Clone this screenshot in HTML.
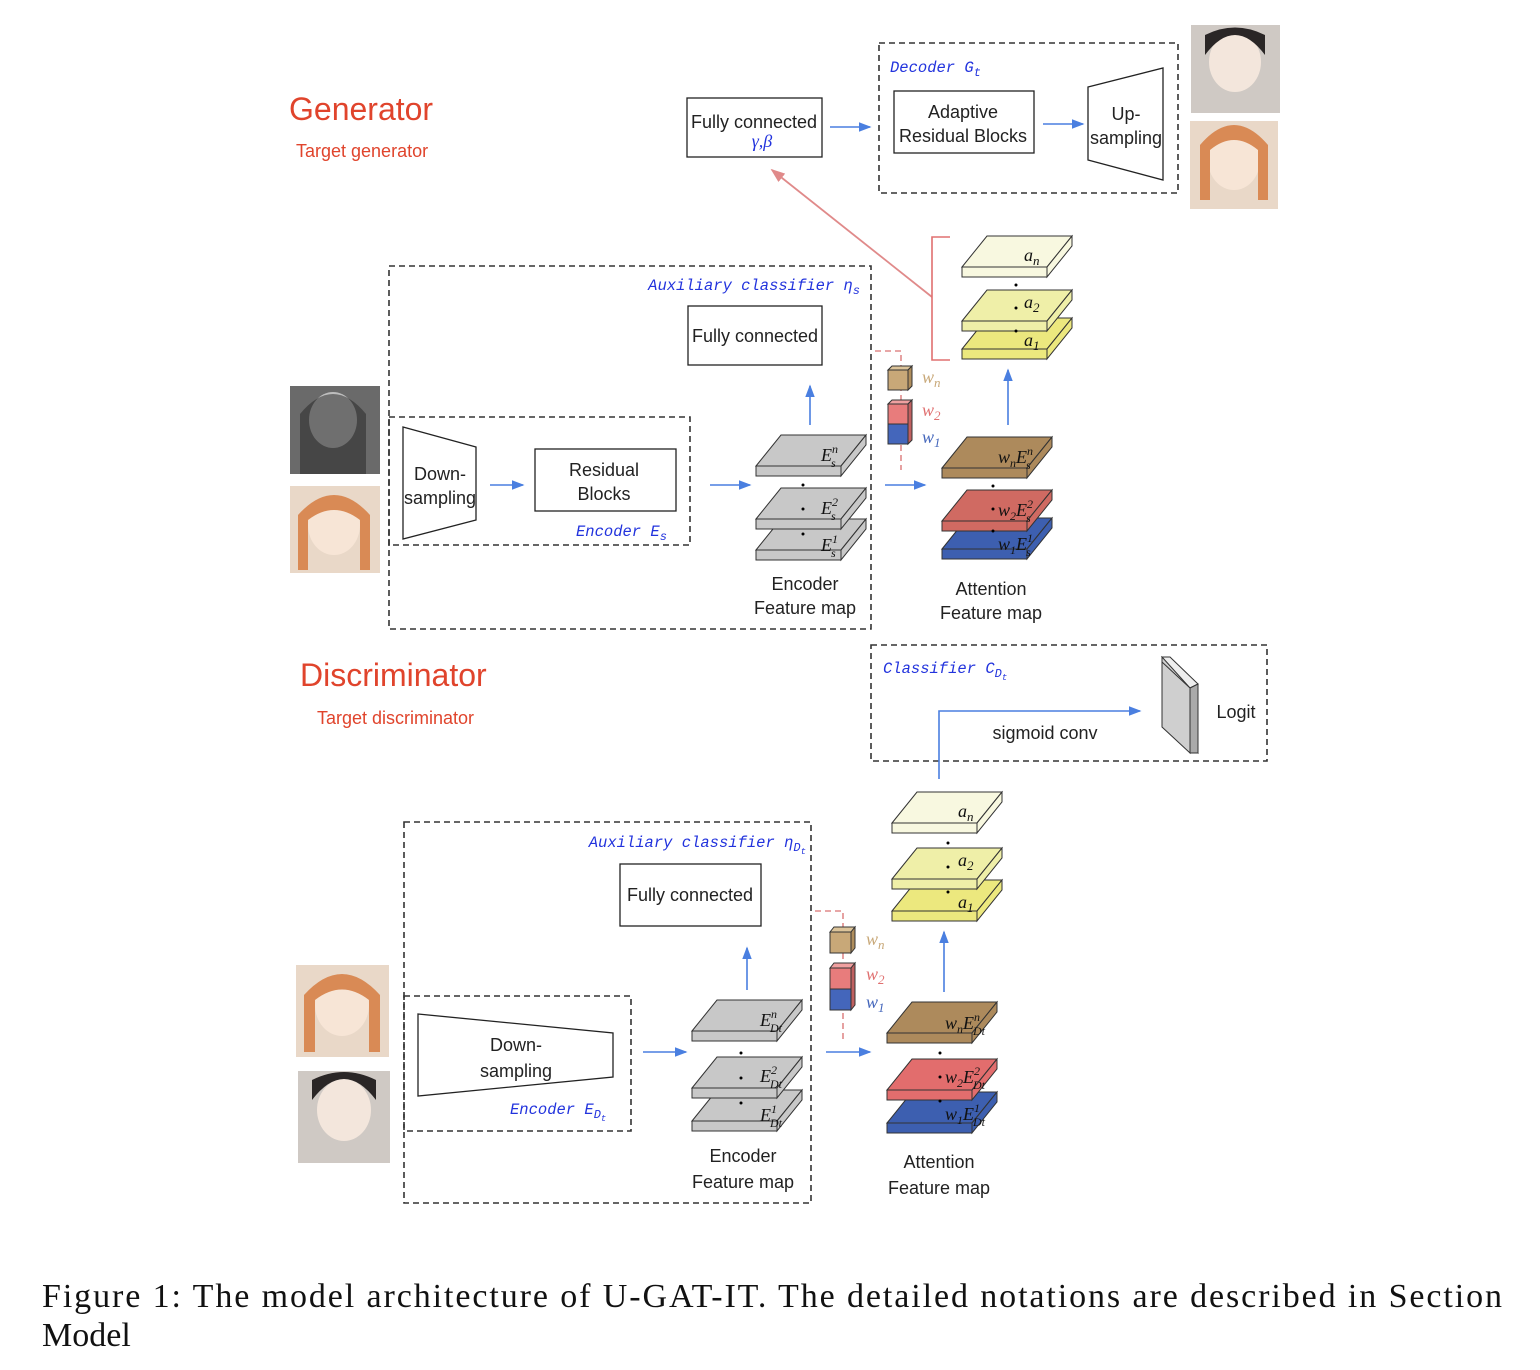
<!DOCTYPE html>
<html><head><meta charset="utf-8"><style>
body{margin:0;background:#fff}
svg{display:block}
.s{font-family:"Liberation Sans",sans-serif;font-size:18px;fill:#222}
.b{font-family:"Liberation Mono",monospace;font-style:italic;font-size:15.5px;fill:#2233dd}
.m{font-family:"Liberation Serif",serif;font-style:italic;font-size:18px;fill:#111}
.r{font-family:"Liberation Sans",sans-serif;fill:#e0442c}
.d{fill:none;stroke:#333;stroke-width:1.6;stroke-dasharray:6,4}
.bx{fill:#fff;stroke:#222;stroke-width:1.3}
.ar{stroke:#4a7fe0;stroke-width:1.6;fill:none;marker-end:url(#ah)}
</style></head><body>
<svg width="1540" height="1370" viewBox="0 0 1540 1370" xmlns="http://www.w3.org/2000/svg">
<defs>
<marker id="ah" markerWidth="8" markerHeight="8" refX="7" refY="4" orient="auto"><path d="M0,1 L8,4 L0,7z" fill="#4a7fe0"/></marker>
<marker id="ahr" markerWidth="8" markerHeight="8" refX="7" refY="4" orient="auto"><path d="M0,1 L8,4 L0,7z" fill="#e08a8a"/></marker>
<g id="slab" stroke="#333" stroke-width="1">
<polygon points="0,31 25,0 110,0 85,31" fill="currentColor"/>
<rect x="0" y="31" width="85" height="10" fill="currentColor"/>
<polygon points="85,31 110,0 110,10 85,41" fill="currentColor"/>
</g>
</defs>

<text class="r" x="289" y="120" font-size="32">Generator</text>
<text class="r" x="296" y="157" font-size="18">Target generator</text>

<rect class="bx" x="687" y="98" width="135" height="59"/>
<text class="s" x="754" y="128" text-anchor="middle">Fully connected</text>
<text class="m" x="762" y="147" text-anchor="middle" style="fill:#2233dd">γ,β</text>
<line class="ar" x1="830" y1="127" x2="870" y2="127"/>
<rect class="d" x="879" y="43" width="299" height="150"/>
<text class="b" x="890" y="72">Decoder G<tspan font-size="12" dy="4">t</tspan></text>
<rect class="bx" x="894" y="91" width="140" height="62"/>
<text class="s" x="963" y="118" text-anchor="middle">Adaptive</text>
<text class="s" x="963" y="142" text-anchor="middle">Residual Blocks</text>
<line class="ar" x1="1043" y1="124" x2="1083" y2="124"/>
<polygon class="bx" points="1088,87 1163,68 1163,180 1088,160"/>
<text class="s" x="1126" y="120" text-anchor="middle">Up-</text>
<text class="s" x="1126" y="144" text-anchor="middle">sampling</text>
<rect x="1191" y="25" width="89" height="88" fill="#cfc9c4"/><ellipse cx="1235" cy="62" rx="26" ry="30" fill="#f3e6dc"/><path d="M1205,55 q30,-40 60,0 l0,-20 q-30,-15 -60,0z" fill="#2a2626"/>
<rect x="1190" y="121" width="88" height="88" fill="#e9d8c8"/><ellipse cx="1234" cy="160" rx="26" ry="30" fill="#f7e5d6"/><path d="M1200,200 l0,-55 q34,-40 68,0 l0,55 l-10,0 l0,-50 q-24,-20 -48,0 l0,50z" fill="#d98a55"/>

<line x1="932" y1="297" x2="772" y2="170" stroke="#e08a8a" stroke-width="1.8" marker-end="url(#ahr)"/>
<path d="M950,237 L932,237 L932,360 L950,360" fill="none" stroke="#e07070" stroke-width="1.6"/>

<use href="#slab" x="962" y="318" color="#ece87e"/>
<use href="#slab" x="962" y="290" color="#efefa8"/>
<use href="#slab" x="962" y="236" color="#f8f8e0"/>
<text class="m" x="1024" y="261">a<tspan font-size="13" dy="4">n</tspan></text>
<text class="m" x="1024" y="308">a<tspan font-size="13" dy="4">2</tspan></text>
<text class="m" x="1024" y="346">a<tspan font-size="13" dy="4">1</tspan></text>
<circle cx="1016" cy="285" r="1.5"/><circle cx="1016" cy="308" r="1.5"/><circle cx="1016" cy="331" r="1.5"/>
<line class="ar" x1="1008" y1="425" x2="1008" y2="370"/>

<rect class="d" x="389" y="266" width="482" height="363"/>
<text class="b" x="860" y="290" text-anchor="end">Auxiliary classifier η<tspan font-size="12" dy="4">s</tspan></text>
<rect class="bx" x="688" y="306" width="134" height="59"/>
<text class="s" x="755" y="342" text-anchor="middle">Fully connected</text>
<line class="ar" x1="810" y1="425" x2="810" y2="386"/>
<rect class="d" x="389" y="417" width="301" height="128"/>
<polygon class="bx" points="403,427 476,447 476,520 403,539"/>
<text class="s" x="440" y="480" text-anchor="middle">Down-</text>
<text class="s" x="440" y="504" text-anchor="middle">sampling</text>
<line class="ar" x1="490" y1="485" x2="523" y2="485"/>
<rect class="bx" x="535" y="449" width="141" height="62"/>
<text class="s" x="604" y="476" text-anchor="middle">Residual</text>
<text class="s" x="604" y="500" text-anchor="middle">Blocks</text>
<text class="b" x="576" y="536">Encoder E<tspan font-size="12" dy="4">s</tspan></text>
<line class="ar" x1="710" y1="485" x2="750" y2="485"/>
<use href="#slab" x="756" y="519" color="#c8c8c8"/>
<use href="#slab" x="756" y="488" color="#c8c8c8"/>
<use href="#slab" x="756" y="435" color="#c8c8c8"/>
<text class="m" x="821" y="461">E<tspan font-size="12" dy="-8">n</tspan><tspan font-size="12" dx="-7" dy="14">s</tspan></text>
<text class="m" x="821" y="514">E<tspan font-size="12" dy="-8">2</tspan><tspan font-size="12" dx="-7" dy="14">s</tspan></text>
<text class="m" x="821" y="551">E<tspan font-size="12" dy="-8">1</tspan><tspan font-size="12" dx="-7" dy="14">s</tspan></text>
<circle cx="803" cy="485" r="1.5"/><circle cx="803" cy="509" r="1.5"/><circle cx="803" cy="534" r="1.5"/>
<text class="s" x="805" y="590" text-anchor="middle">Encoder</text>
<text class="s" x="805" y="614" text-anchor="middle">Feature map</text>
<path d="M875,351 L901,351 L901,470" fill="none" stroke="#e08a8a" stroke-width="1.6" stroke-dasharray="6,4"/>
<rect x="888" y="370" width="20" height="20" fill="#c8a878" stroke="#333"/><polygon points="888,370 892,366 912,366 908,370" fill="#dcc49a" stroke="#333"/><polygon points="908,370 912,366 912,386 908,390" fill="#b08e5c" stroke="#333"/>
<rect x="888" y="404" width="20" height="20" fill="#e87c7c" stroke="#333"/><rect x="888" y="424" width="20" height="20" fill="#4466bb" stroke="#333"/><polygon points="888,404 892,400 912,400 908,404" fill="#f0a0a0" stroke="#333"/><polygon points="908,404 912,400 912,440 908,444" fill="#c06060" stroke="#333"/>
<text class="m" x="922" y="383" style="fill:#c8a878">w<tspan font-size="13" dy="4">n</tspan></text>
<text class="m" x="922" y="416" style="fill:#e07070">w<tspan font-size="13" dy="4">2</tspan></text>
<text class="m" x="922" y="443" style="fill:#4466bb">w<tspan font-size="13" dy="4">1</tspan></text>
<line class="ar" x1="885" y1="485" x2="925" y2="485"/>
<use href="#slab" x="942" y="518" color="#3d5fb0"/>
<use href="#slab" x="942" y="490" color="#d06a62"/>
<use href="#slab" x="942" y="437" color="#ad8a5c"/>
<text class="m" x="998" y="463">w<tspan font-size="12" dy="4">n</tspan><tspan dy="-4">E</tspan><tspan font-size="12" dy="-8">n</tspan><tspan font-size="12" dx="-7" dy="14">s</tspan></text>
<text class="m" x="998" y="516">w<tspan font-size="12" dy="4">2</tspan><tspan dy="-4">E</tspan><tspan font-size="12" dy="-8">2</tspan><tspan font-size="12" dx="-7" dy="14">s</tspan></text>
<text class="m" x="998" y="550">w<tspan font-size="12" dy="4">1</tspan><tspan dy="-4">E</tspan><tspan font-size="12" dy="-8">1</tspan><tspan font-size="12" dx="-7" dy="14">s</tspan></text>
<circle cx="993" cy="486" r="1.5"/><circle cx="993" cy="509" r="1.5"/><circle cx="993" cy="531" r="1.5"/>
<text class="s" x="991" y="595" text-anchor="middle">Attention</text>
<text class="s" x="991" y="619" text-anchor="middle">Feature map</text>
<rect x="290" y="386" width="90" height="88" fill="#6a6a6a"/><ellipse cx="333" cy="420" rx="24" ry="28" fill="#bdbdbd"/><path d="M300,474 l0,-60 q33,-40 66,0 l0,60z" fill="#222" opacity=".5"/>
<rect x="290" y="486" width="90" height="87" fill="#e9d8c8"/><ellipse cx="334" cy="525" rx="26" ry="30" fill="#f7e5d6"/><path d="M298,570 l0,-55 q36,-40 72,0 l0,55 l-10,0 l0,-50 q-26,-20 -52,0 l0,50z" fill="#d98a55"/>

<text class="r" x="300" y="686" font-size="32">Discriminator</text>
<text class="r" x="317" y="724" font-size="18">Target discriminator</text>
<rect class="d" x="871" y="645" width="396" height="116"/>
<text class="b" x="883" y="673">Classifier C<tspan font-size="12" dy="4">D</tspan><tspan font-size="9" dy="3">t</tspan></text>
<path class="ar" d="M939,779 L939,711 L1140,711"/>
<text class="s" x="1045" y="739" text-anchor="middle">sigmoid conv</text>
<polygon points="1162,657 1198,688 1198,753 1162,722" fill="#d0d0d0" stroke="#333"/>
<polygon points="1162,657 1170,657 1198,684 1190,688" fill="#eee" stroke="#333"/>
<polygon points="1190,688 1198,684 1198,753 1190,753" fill="#aaa" stroke="#333"/>
<polygon points="1162,662 1190,688 1190,753 1162,727" fill="#cfcfcf" stroke="#333"/>
<text class="s" x="1236" y="718" text-anchor="middle">Logit</text>

<use href="#slab" x="892" y="880" color="#ece87e"/>
<use href="#slab" x="892" y="848" color="#efefa8"/>
<use href="#slab" x="892" y="792" color="#f8f8e0"/>
<text class="m" x="958" y="817">a<tspan font-size="13" dy="4">n</tspan></text>
<text class="m" x="958" y="866">a<tspan font-size="13" dy="4">2</tspan></text>
<text class="m" x="958" y="908">a<tspan font-size="13" dy="4">1</tspan></text>
<circle cx="948" cy="843" r="1.5"/><circle cx="948" cy="867" r="1.5"/><circle cx="948" cy="892" r="1.5"/>
<line class="ar" x1="944" y1="992" x2="944" y2="932"/>

<rect class="d" x="404" y="822" width="407" height="381"/>
<text class="b" x="806" y="847" text-anchor="end">Auxiliary classifier η<tspan font-size="12" dy="4">D</tspan><tspan font-size="9" dy="3">t</tspan></text>
<rect class="bx" x="620" y="864" width="141" height="62"/>
<text class="s" x="690" y="901" text-anchor="middle">Fully connected</text>
<line class="ar" x1="747" y1="990" x2="747" y2="948"/>
<rect class="d" x="404" y="996" width="227" height="135"/>
<polygon class="bx" points="418,1014 613,1033 613,1077 418,1096"/>
<text class="s" x="516" y="1051" text-anchor="middle">Down-</text>
<text class="s" x="516" y="1077" text-anchor="middle">sampling</text>
<text class="b" x="510" y="1114">Encoder E<tspan font-size="12" dy="4">D</tspan><tspan font-size="9" dy="3">t</tspan></text>
<line class="ar" x1="643" y1="1052" x2="686" y2="1052"/>
<use href="#slab" x="692" y="1090" color="#c8c8c8"/>
<use href="#slab" x="692" y="1057" color="#c8c8c8"/>
<use href="#slab" x="692" y="1000" color="#c8c8c8"/>
<text class="m" x="760" y="1026">E<tspan font-size="12" dy="-8">n</tspan><tspan font-size="12" dx="-7" dy="14">Dt</tspan></text>
<text class="m" x="760" y="1082">E<tspan font-size="12" dy="-8">2</tspan><tspan font-size="12" dx="-7" dy="14">Dt</tspan></text>
<text class="m" x="760" y="1121">E<tspan font-size="12" dy="-8">1</tspan><tspan font-size="12" dx="-7" dy="14">Dt</tspan></text>
<circle cx="741" cy="1053" r="1.5"/><circle cx="741" cy="1078" r="1.5"/><circle cx="741" cy="1103" r="1.5"/>
<text class="s" x="743" y="1162" text-anchor="middle">Encoder</text>
<text class="s" x="743" y="1188" text-anchor="middle">Feature map</text>
<path d="M815,911 L843,911 L843,1040" fill="none" stroke="#e08a8a" stroke-width="1.6" stroke-dasharray="6,4"/>
<rect x="830" y="932" width="21" height="21" fill="#c8a878" stroke="#333"/><polygon points="830,932 834,927 855,927 851,932" fill="#dcc49a" stroke="#333"/><polygon points="851,932 855,927 855,948 851,953" fill="#b08e5c" stroke="#333"/>
<rect x="830" y="968" width="21" height="21" fill="#e87c7c" stroke="#333"/><rect x="830" y="989" width="21" height="21" fill="#4466bb" stroke="#333"/><polygon points="830,968 834,963 855,963 851,968" fill="#f0a0a0" stroke="#333"/><polygon points="851,968 855,963 855,1005 851,1010" fill="#c06060" stroke="#333"/>
<text class="m" x="866" y="945" style="fill:#c8a878">w<tspan font-size="13" dy="4">n</tspan></text>
<text class="m" x="866" y="980" style="fill:#e07070">w<tspan font-size="13" dy="4">2</tspan></text>
<text class="m" x="866" y="1008" style="fill:#4466bb">w<tspan font-size="13" dy="4">1</tspan></text>
<line class="ar" x1="826" y1="1052" x2="870" y2="1052"/>
<use href="#slab" x="887" y="1092" color="#3d5fb0"/>
<use href="#slab" x="887" y="1059" color="#e26d6d"/>
<use href="#slab" x="887" y="1002" color="#ad8a5c"/>
<text class="m" x="945" y="1029">w<tspan font-size="12" dy="4">n</tspan><tspan dy="-4">E</tspan><tspan font-size="12" dy="-8">n</tspan><tspan font-size="12" dx="-7" dy="14">Dt</tspan></text>
<text class="m" x="945" y="1083">w<tspan font-size="12" dy="4">2</tspan><tspan dy="-4">E</tspan><tspan font-size="12" dy="-8">2</tspan><tspan font-size="12" dx="-7" dy="14">Dt</tspan></text>
<text class="m" x="945" y="1120">w<tspan font-size="12" dy="4">1</tspan><tspan dy="-4">E</tspan><tspan font-size="12" dy="-8">1</tspan><tspan font-size="12" dx="-7" dy="14">Dt</tspan></text>
<circle cx="940" cy="1053" r="1.5"/><circle cx="940" cy="1077" r="1.5"/><circle cx="940" cy="1101" r="1.5"/>
<text class="s" x="939" y="1168" text-anchor="middle">Attention</text>
<text class="s" x="939" y="1194" text-anchor="middle">Feature map</text>
<rect x="296" y="965" width="93" height="92" fill="#e9d8c8"/><ellipse cx="342" cy="1005" rx="27" ry="31" fill="#f7e5d6"/><path d="M304,1052 l0,-57 q38,-42 76,0 l0,57 l-11,0 l0,-52 q-27,-21 -54,0 l0,52z" fill="#d98a55"/>
<rect x="298" y="1071" width="92" height="92" fill="#cfc9c4"/><ellipse cx="344" cy="1110" rx="27" ry="31" fill="#f3e6dc"/><path d="M312,1100 q32,-42 64,0 l0,-20 q-32,-16 -64,0z" fill="#2a2626"/>

<text font-family="Liberation Serif, serif" font-size="34" fill="#111" x="42" y="1307" textLength="1460" lengthAdjust="spacing">Figure 1:  The model architecture of U-GAT-IT. The detailed notations are described in Section</text>
<text font-family="Liberation Serif, serif" font-size="34" fill="#111" x="42" y="1346">Model</text>
</svg>
</body></html>
